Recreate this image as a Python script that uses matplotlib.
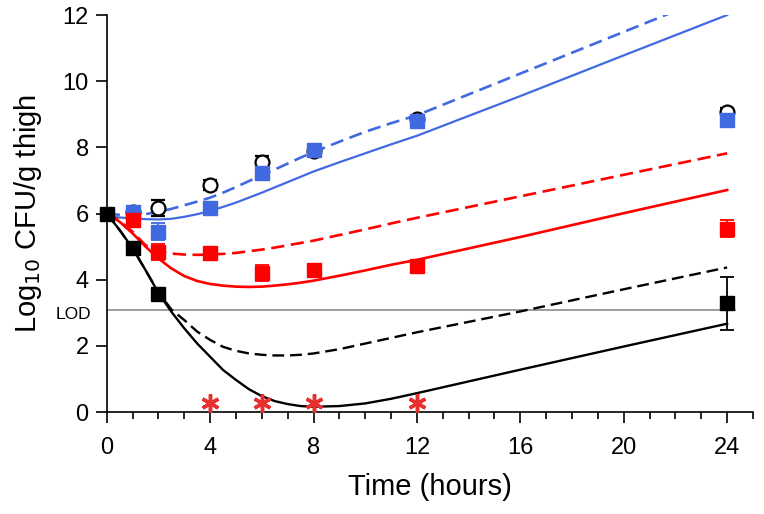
import matplotlib
matplotlib.use("Agg")
import matplotlib.pyplot as plt

plt.rcParams['font.family'] = ['Liberation Sans', 'DejaVu Sans']

# ---- observed data ----
black_t = [0, 1, 2, 24]
black_y = [6.0, 4.95, 3.57, 3.29]
black_e = [0.08, 0.12, 0.1, 0.8]

red_t = [1, 2, 4, 6, 8, 12, 24]
red_y = [5.79, 4.84, 4.81, 4.20, 4.28, 4.42, 5.54]
red_e = [0.12, 0.25, 0.15, 0.23, 0.1, 0.1, 0.25]

blue_t = [1, 2, 4, 6, 8, 12, 24]
blue_y = [6.05, 5.45, 6.18, 7.21, 7.92, 8.81, 8.82]
blue_e = [0.08, 0.25, 0.15, 0.15, 0.15, 0.1, 0.15]

open_t = [1, 2, 4, 6, 8, 12, 24]
open_y = [6.05, 6.17, 6.87, 7.55, 7.90, 8.85, 9.08]
open_e = [0.1, 0.25, 0.15, 0.2, 0.15, 0.1, 0.12]

star_t = [4, 6, 8, 12]
star_y = [0.27, 0.27, 0.27, 0.27]

LOD = 3.07

# ---- model curves ----
model_t = [0, 0.5, 1, 1.5, 2, 2.5, 3, 3.5, 4, 4.5, 5, 5.5, 6, 6.5, 7, 7.5, 8,
           9, 10, 11, 12, 16, 20, 24]
black_solid = [6.0, 5.5, 4.95, 4.29, 3.6, 3.03, 2.53, 2.07, 1.67, 1.27, 0.97, 0.69,
               0.48, 0.33, 0.24, 0.18, 0.16, 0.18, 0.26, 0.4, 0.57, 1.28, 1.98, 2.67]
black_dash = [6.0, 5.5, 4.95, 4.29, 3.62, 3.1, 2.78, 2.43, 2.18, 1.97, 1.85, 1.77,
              1.73, 1.71, 1.71, 1.73, 1.77, 1.9, 2.07, 2.24, 2.41, 3.04, 3.71, 4.37]
red_solid = [6.0, 5.75, 5.4, 5.0, 4.64, 4.34, 4.11, 3.96, 3.87, 3.82, 3.79, 3.78,
             3.79, 3.82, 3.86, 3.91, 3.97, 4.12, 4.28, 4.45, 4.6, 5.29, 6.01, 6.71]
red_dash = [6.0, 5.78, 5.45, 5.04, 4.87, 4.79, 4.76, 4.75, 4.76, 4.78, 4.81, 4.86,
            4.91, 4.97, 5.04, 5.11, 5.18, 5.35, 5.52, 5.7, 5.87, 6.52, 7.17, 7.82]
blue_solid = [5.91, 5.88, 5.85, 5.83, 5.82, 5.84, 5.9, 5.98, 6.08, 6.2, 6.33, 6.48,
              6.63, 6.79, 6.95, 7.11, 7.27, 7.55, 7.82, 8.09, 8.35, 9.55, 10.78, 12.0]
blue_dash = [6.0, 5.96, 5.95, 5.98, 6.05, 6.14, 6.25, 6.36, 6.48, 6.63, 6.8, 6.98,
             7.16, 7.33, 7.51, 7.69, 7.86, 8.17, 8.47, 8.73, 8.97, 10.23, 11.49, 12.75]

x_ticks = [0, 4, 8, 12, 16, 20, 24]
y_ticks = [0, 2, 4, 6, 8, 10, 12]

BLUE = '#4169E1'
RED = '#FF0000'
BLACK = '#000000'

fig = plt.figure(figsize=(7.64, 5.14), dpi=100)
ax = fig.add_axes([0.1397, 0.1984, 0.9856 - 0.1397, 0.9708 - 0.1984])

dash = (5, 2.5)
ax.plot(model_t, blue_solid, color=BLUE, lw=1.6, zorder=2)
ax.plot(model_t, blue_dash, color=BLUE, lw=1.9, dashes=dash, zorder=2)
ax.plot(model_t, red_solid, color=RED, lw=1.9, zorder=2)
ax.plot(model_t, red_dash, color=RED, lw=1.9, dashes=dash, zorder=2)
ax.plot(model_t, black_solid, color=BLACK, lw=1.7, zorder=2)
ax.plot(model_t, black_dash, color=BLACK, lw=1.7, dashes=dash, zorder=2)

ax.plot([0, 24.3], [LOD, LOD], color='#8c8c8c', lw=1.2, zorder=1)

ms = 10
ax.errorbar(open_t, open_y, yerr=open_e, fmt='o', mfc='white', mec=BLACK, mew=1.6,
            ms=ms, ecolor=BLACK, elinewidth=1.3, capsize=5, capthick=1.3, zorder=3, clip_on=False)
ax.errorbar(blue_t, blue_y, yerr=blue_e, fmt='s', color=BLUE, ms=ms,
            ecolor=BLUE, elinewidth=1.3, capsize=5, capthick=1.3, zorder=4, clip_on=False)
ax.errorbar(red_t, red_y, yerr=red_e, fmt='s', color=RED, ms=ms,
            ecolor=RED, elinewidth=1.3, capsize=5, capthick=1.3, zorder=4, clip_on=False)
ax.errorbar(black_t, black_y, yerr=black_e, fmt='s', color=BLACK, ms=ms,
            ecolor=BLACK, elinewidth=1.3, capsize=5, capthick=1.3, zorder=5, clip_on=False)

ax.plot(star_t, star_y, linestyle='none', marker=(6, 2, 0), ms=13, mew=2.5,
        color='#E8312F', zorder=5, clip_on=False)

ax.set_xlim(0, 25)
ax.set_ylim(0, 12)
ax.set_xticks(x_ticks)
ax.set_xticks(range(0, 26), minor=True)
ax.set_yticks(y_ticks)
ax.tick_params(axis='both', which='major', direction='out', length=8, width=1.2,
               labelsize=17)
ax.tick_params(axis='x', which='major', pad=10)
ax.tick_params(axis='y', which='major', pad=5)
ax.tick_params(axis='x', which='minor', direction='out', length=5, width=1.2)
for s in ['top', 'right']:
    ax.spines[s].set_visible(False)
for s in ['left', 'bottom']:
    ax.spines[s].set_linewidth(1.2)

ax.set_xlabel('Time (hours)', fontsize=21, labelpad=10)
ax.set_ylabel(r'Log$_{10}$ CFU/g thigh', fontsize=21, labelpad=13)
ax.text(-0.6, LOD - 0.12, 'LOD', fontsize=12.5, ha='right', va='center', transform=ax.transData)

fig.savefig('out.png', dpi=100)
